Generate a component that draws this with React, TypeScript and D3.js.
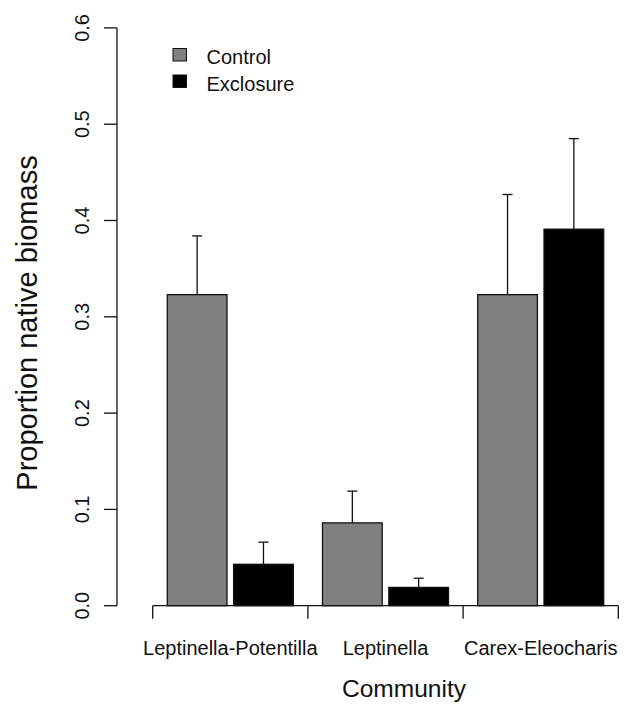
import React from "react";
import { scaleBand, scaleLinear, format } from "d3";

// data
const communities = ["Leptinella-Potentilla", "Leptinella", "Carex-Eleocharis"];
const treatments = ["Control", "Exclosure"];
const controlMean = [0.323, 0.086, 0.323];
const controlSE = [0.061, 0.033, 0.104];
const exclosureMean = [0.043, 0.019, 0.391];
const exclosureSE = [0.023, 0.0095, 0.094];
const yTicks = [0, 0.1, 0.2, 0.3, 0.4, 0.5, 0.6];
const fills = ["#808080", "#000000"];

const FONT = "'Liberation Sans', Arial, sans-serif";

export default function App() {
    const width = 629;
    const height = 713;
    const axisY = 605.7;
    const axisX = 117;

    const y = scaleLinear().domain([0, 0.6]).range([axisY, 27.9]);
    const x = scaleBand().domain(communities).range([152.7, 618.3]).padding(0);
    const pad = x.bandwidth() * 0.094;
    const xInner = scaleBand().domain(treatments).range([pad, x.bandwidth() - pad]).paddingInner(0.1);

    const means = [controlMean, exclosureMean];
    const ses = [controlSE, exclosureSE];
    const fmt = format(".1f");
    const edges = [...communities.map(c => x(c)), x(communities[communities.length - 1]) + x.bandwidth()];

    return (
        <svg width={width} height={height} style={{ position: "absolute", left: 0, top: 0, background: "#fff" }} fontFamily={FONT}>
            <rect x={0} y={0} width={width} height={height} fill="#fff" />

            {/* bars */}
            {communities.map((c, i) => (
                <g key={c} transform={`translate(${x(c)},0)`}>
                    {treatments.map((t, j) => {
                        const bx = xInner(t);
                        const m = means[j][i];
                        const top = y(m);
                        const cx = bx + xInner.bandwidth() / 2;
                        const et = y(m + ses[j][i]);
                        return (
                            <g key={t}>
                                <rect x={bx} y={top} width={xInner.bandwidth()} height={axisY - top}
                                    fill={fills[j]} stroke="#111" strokeWidth={1.3} />
                                <line x1={cx} x2={cx} y1={top} y2={et} stroke="#111" strokeWidth={1.3} />
                                <line x1={cx - 5} x2={cx + 5} y1={et} y2={et} stroke="#111" strokeWidth={1.3} />
                            </g>
                        );
                    })}
                </g>
            ))}

            {/* y axis */}
            <line x1={axisX} x2={axisX} y1={y(0)} y2={y(0.6)} stroke="#111" strokeWidth={1.3} />
            {yTicks.map(v => (
                <g key={v}>
                    <line x1={axisX - 13} x2={axisX} y1={y(v)} y2={y(v)} stroke="#111" strokeWidth={1.3} />
                    <text transform={`translate(89,${y(v)}) rotate(-90)`} textAnchor="middle" fontSize={20} fill="#111">
                        {fmt(v)}
                    </text>
                </g>
            ))}
            <text transform={`translate(37,${323}) rotate(-90)`} textAnchor="middle" fontSize={29} fill="#111">
                Proportion native biomass
            </text>

            {/* x axis */}
            <line x1={edges[0]} x2={edges[edges.length - 1]} y1={axisY} y2={axisY} stroke="#111" strokeWidth={1.3} />
            {edges.map((e, i) => (
                <line key={i} x1={e} x2={e} y1={axisY} y2={axisY + 13} stroke="#111" strokeWidth={1.3} />
            ))}
            {communities.map(c => (
                <text key={c} x={x(c) + x.bandwidth() / 2} y={655} textAnchor="middle" fontSize={20} fill="#111">
                    {c}
                </text>
            ))}
            <text x={404} y={696.5} textAnchor="middle" fontSize={24.5} fill="#111">Community</text>

            {/* legend */}
            {treatments.map((t, j) => (
                <g key={t} transform={`translate(0,${j * 26.5})`}>
                    <rect x={173} y={48.5} width={13.5} height={12.5} fill={fills[j]} stroke="#111" strokeWidth={1} />
                    <text x={206.5} y={64.3} fontSize={20} fill="#111">{t}</text>
                </g>
            ))}
        </svg>
    );
}
